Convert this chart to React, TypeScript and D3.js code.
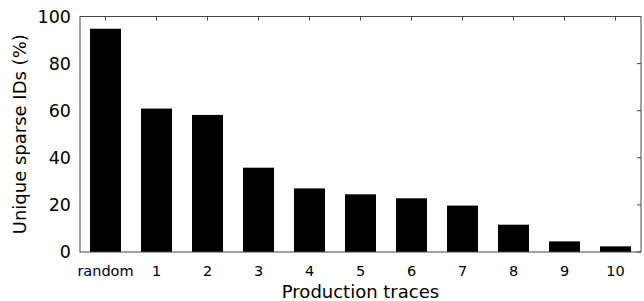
import React, { useEffect, useRef } from 'react';
import * as d3 from 'd3';

const categories = ['random', '1', '2', '3', '4', '5', '6', '7', '8', '9', '10'];
const uniquePct = [94.8, 60.9, 58.2, 35.8, 27.0, 24.5, 22.8, 19.7, 11.6, 4.5, 2.4];
const yTicks = [0, 20, 40, 60, 80, 100];

const App = () => {
  const svgRef = useRef<SVGSVGElement>(null);

  useEffect(() => {
    const svg = d3.select(svgRef.current);
    svg.selectAll('*').remove();

    const width = 644;
    const height = 301;
    const margin = { top: 16.5, right: 3, bottom: 49, left: 80 };
    const font = 'DejaVu Sans, sans-serif';
    const axisColor = '#444';

    const x = d3.scaleBand()
      .domain(categories)
      .range([margin.left, width - margin.right])
      .paddingInner(0.392)
      .paddingOuter(0.196);

    const y = d3.scaleLinear()
      .domain([0, 100])
      .range([height - margin.bottom, margin.top]);

    // bars
    svg.append('g')
      .selectAll('rect')
      .data(uniquePct)
      .enter().append('rect')
      .attr('x', (_d, i) => x(categories[i]))
      .attr('y', d => y(d))
      .attr('width', x.bandwidth())
      .attr('height', d => y(0) - y(d))
      .attr('fill', '#000');

    const x0 = margin.left;
    const x1 = width - margin.right;
    const y0 = y(0);
    const y1 = y(100);

    // frame
    svg.append('rect')
      .attr('x', x0)
      .attr('y', y1)
      .attr('width', x1 - x0)
      .attr('height', y0 - y1)
      .attr('fill', 'none')
      .attr('stroke', axisColor)
      .attr('stroke-width', 1);

    // top ticks (inward)
    svg.append('g')
      .selectAll('line')
      .data(categories)
      .enter().append('line')
      .attr('x1', d => x(d) + x.bandwidth() / 2)
      .attr('x2', d => x(d) + x.bandwidth() / 2)
      .attr('y1', y1)
      .attr('y2', y1 + 4)
      .attr('stroke', axisColor);

    // right ticks (inward)
    svg.append('g')
      .selectAll('line')
      .data(yTicks)
      .enter().append('line')
      .attr('x1', x1)
      .attr('x2', x1 - 4)
      .attr('y1', d => y(d))
      .attr('y2', d => y(d))
      .attr('stroke', axisColor);

    // y tick labels
    svg.append('g')
      .selectAll('text')
      .data(yTicks)
      .enter().append('text')
      .attr('x', x0 - 9)
      .attr('y', d => y(d))
      .attr('dy', '0.36em')
      .attr('text-anchor', 'end')
      .style('font-family', font)
      .style('font-size', '17.5px')
      .text(d => d);

    // x tick labels
    svg.append('g')
      .selectAll('text')
      .data(categories)
      .enter().append('text')
      .attr('x', d => x(d) + x.bandwidth() / 2)
      .attr('y', 275.5)
      .attr('text-anchor', 'middle')
      .style('font-family', font)
      .style('font-size', '14.5px')
      .text(d => d);

    // axis titles
    svg.append('text')
      .attr('x', (x0 + x1) / 2)
      .attr('y', 298)
      .attr('text-anchor', 'middle')
      .style('font-family', font)
      .style('font-size', '18px')
      .text('Production traces');

    svg.append('text')
      .attr('transform', `translate(26,${(y0 + y1) / 2}) rotate(-90)`)
      .attr('text-anchor', 'middle')
      .style('font-family', font)
      .style('font-size', '18px')
      .text('Unique sparse IDs (%)');
  }, []);

  return (
    <svg
      ref={svgRef}
      width="644"
      height="301"
      style={{ position: 'absolute', left: 0, top: 0 }}
    ></svg>
  );
};

export default App;
